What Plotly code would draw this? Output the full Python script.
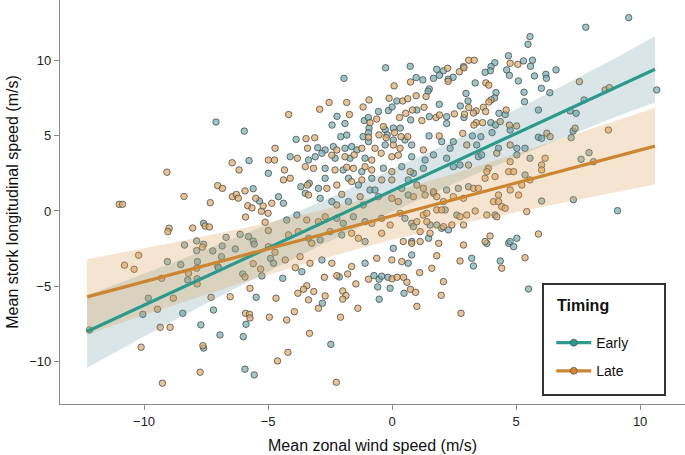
import plotly.graph_objects as go

# ---------------- data ----------------
early_x = [-7.1,
  -1.94,-5.96,-2.22,-2.42,-1.9,-1.12,-0.96,-0.55,-0.93,-0.95,-3.87,-2.07,-1.83,-1.17,
  5.56,5.48,4.69,5.66,5.3,5.58,-0.26,0.73,4.14,3.99,3.96,3.75,4.62,4.73,5.74,5.09,2.88,2.46,2.26,2.07,1.8,1.91,1.67,1.24,0.97,1.5,1.45,
  3.35,4.19,4.13,2.98,3.06,2.75,4.31,4.56,5.32,5.34,5.9,1.9,-0.15,0.19,0.0,1.0,0.75,1.5,2.2,2.2,2.9,3.98,4.17,4.76,4.03,-0.28,0.05,0.33,-0.2,1.49,3.24,3.58,
  9.54,7.81,6.61,6.2,6.22,6.02,6.36,10.67,7.74,7.18,7.42,7.3,5.9,
  -5.77,-4.99,-5.6,-5.35,-7.6,-8.37,-7.88,-7.6,-7.88,-6.69,-6.13,-5.79,-5.6,-5.56,-6.85,-7.23,-6.32,-6.88,-9.06,-8.52,-7.85,-7.03,-4.9,
  -0.95,0.05,0.52,-3.0,-2.7,-2.37,-1.9,-1.63,-1.42,-0.28,0.79,-4.11,-3.37,-3.1,-2.83,-2.3,-1.7,-1.09,0.79,-2.7,-1.97,-1.22,-0.35,0.39,
  -3.68,-3.34,-2.97,-2.7,-1.76,-1.36,-0.82,0.39,0.65,-4.58,-4.38,-3.5,-2.9,-2.43,-1.76,-1.16,-0.89,-0.69,-0.55,0.65,
  -4.25,-3.84,-2.23,-1.97,-1.56,-1.09,-0.42,0.52,0.79,-3.37,-2.9,-2.03,-1.09,0.05,0.79,-4.78,-2.83,-1.09,0.65,0.79,
  2.0,2.34,2.47,3.41,4.29,5.03,5.36,6.03,1.33,1.67,2.2,2.47,2.74,3.48,3.61,5.03,5.56,0.86,1.26,2.2,2.67,3.08,5.36,1.67,4.15,6.03,2.14,2.61,
  1.53,1.8,0.86,2.0,2.27,1.47,3.82,4.7,4.76,4.9,5.03,3.21,3.28,4.36,
  7.22,7.94,7.62,8.12,7.31,9.09,
  -8.24,-7.86,-7.0,-6.02,-5.25,-4.41,-3.64,-5.48,-9.83,-10.05,-8.44,-7.2,-7.71,-6.94,-6.0,-5.89,-5.93,-5.56,-7.6,
  -2.13,-2.81,-0.73,-0.52,-0.42,-0.17,-0.58,-0.08,-0.52,0.48,5.5,-2.47]
early_y = [5.9,
  8.8,5.3,6.28,5.7,5.8,6.0,6.2,6.6,5.5,5.2,4.75,4.93,5.04,4.93,
  11.57,11.06,10.3,10.0,9.96,9.6,9.5,9.6,9.84,9.58,9.3,9.2,9.36,9.0,8.96,8.63,9.58,8.87,8.74,9.3,9.4,9.0,8.8,8.7,8.85,8.1,7.95,
  8.5,7.85,7.5,7.8,7.3,6.97,6.48,6.4,7.88,7.25,6.7,7.08,6.66,7.3,6.9,6.7,6.04,6.26,6.26,5.8,6.2,5.86,5.7,5.37,5.2,5.4,5.5,5.5,5.05,4.98,4.98,4.93,
  12.83,12.19,9.36,9.07,8.8,8.14,7.85,8.03,7.37,6.64,6.48,5.3,4.9,
  3.34,2.5,1.48,0.66,-0.82,-2.26,-1.99,-2.21,-2.63,-1.75,-1.55,-1.7,-2.0,-2.2,-2.32,-2.65,-2.52,-3.03,-3.36,-3.56,-3.36,-3.7,-3.15,
  4.6,4.71,4.71,4.2,4.05,4.27,4.16,4.27,4.05,4.38,4.38,3.6,3.38,3.6,3.83,3.5,3.5,3.5,3.6,2.83,2.72,2.61,2.83,2.94,
  1.61,1.84,1.5,2.17,2.17,1.72,2.17,1.5,2.06,0.95,0.51,1.17,0.84,0.62,0.62,0.4,1.39,1.39,0.95,1.06,
  -0.6,-0.27,-0.49,-0.82,-0.38,-0.71,-0.49,-0.49,-0.82,-1.81,-1.92,-1.59,-2.03,-2.48,-2.03,-3.47,-3.25,-3.47,-3.47,-2.92,
  4.6,4.16,4.6,4.38,4.16,4.16,4.16,4.82,3.38,3.72,3.5,2.94,3.05,3.6,3.72,3.72,3.5,2.5,2.83,1.39,1.5,1.61,2.39,1.17,-0.27,0.66,0.07,-0.27,
  -0.93,-0.93,-1.04,-1.15,-1.26,-1.81,-2.15,-2.15,-2.03,-2.37,-1.81,-3.14,-3.65,-3.32,
  4.86,3.87,3.43,3.27,0.75,0.02,
  -4.58,-4.5,-3.76,-4.18,-4.31,-4.47,-4.03,-5.73,-5.79,-6.86,-6.79,-6.57,-7.56,-8.23,-8.34,-7.52,-10.5,-10.88,-9.1,
  -4.38,-6.12,-4.29,-4.53,-4.33,-4.4,-5.04,-5.13,-5.86,-5.46,-5.18,-8.85]

late_x = [-4.17,-2.92,-2.54,-1.83,-0.93,-1.17,-1.72,-0.62,-0.89,-3.47,-3.12,-0.95,
  4.76,5.07,3.09,3.31,2.71,2.9,2.26,2.24,0.74,0.08,1.37,0.97,3.78,3.9,3.99,3.9,3.09,3.39,3.68,3.77,4.6,-0.12,0.43,0.63,1.29,0.82,0.55,0.3,1.2,1.77,1.91,
  2.51,2.92,3.28,3.39,3.3,3.65,4.36,5.02,4.73,-0.35,0.1,0.36,-0.53,1.9,2.85,
  7.55,8.59,8.76,7.38,6.24,8.72,
  -11.0,-10.87,-9.08,-8.39,-7.33,-6.45,-6.17,-4.99,-7.03,-6.84,-6.44,-6.28,-6.2,-5.93,-5.5,-5.82,-5.65,-5.27,-5.2,-5.0,-5.91,-7.54,-7.37,-8.04,-8.99,-9.04,
  -5.12,-4.99,-7.65,-10.22,-10.79,-10.4,-5.6,-5.3,
  -4.72,-3.41,-2.23,-1.22,-0.69,0.05,0.32,0.63,-0.24,-4.74,-3.82,-2.43,-1.9,-1.53,-0.82,-0.44,-0.01,0.25,-4.34,-3.5,-3.17,-2.3,-1.83,-1.56,-1.09,-0.82,-0.01,0.73,
  -4.38,-4.11,-3.41,-2.63,-2.23,-1.63,-1.22,-0.42,-0.01,-4.85,-3.37,-2.23,-2.03,-1.29,-0.01,0.25,-3.44,-2.97,-2.7,-0.82,-0.08,0.32,
  -4.99,-4.72,-4.18,-3.78,-3.24,-2.5,-1.63,-1.36,-0.42,0.45,-4.31,-3.71,-3.31,-2.43,-1.63,-0.62,-0.01,0.39,
  1.26,3.01,4.76,6.37,3.08,3.88,4.22,4.76,6.03,6.17,1.0,1.26,1.67,3.28,3.48,3.75,3.82,4.15,4.29,4.7,4.9,4.76,5.1,5.23,5.56,6.03,
  0.86,1.33,1.8,2.07,2.47,2.88,4.09,4.29,4.42,4.56,4.22,5.43,1.8,2.0,2.74,3.01,3.35,3.82,1.26,1.4,1.0,1.4,2.07,2.41,2.88,1.13,1.53,
  0.79,1.13,1.88,2.88,3.75,3.95,5.9,1.8,2.74,4.42,5.36,1.6,
  -9.29,-8.21,-7.86,-7.88,-5.93,-3.9,-3.44,-3.57,-3.8,-5.73,-4.68,-6.53,-7.3,-8.82,-9.46,-12.2,-9.35,-8.95,-5.91,-5.75,-5.73,-4.95,-4.25,-3.94,
  -4.62,-4.2,-7.74,-9.26,-7.63,-10.12,-3.33,-3.37,
  -1.79,-2.23,-2.73,-3.16,-2.7,-2.97,-1.99,-1.86,-1.99,-1.46,-1.38,-2.08,-0.95,0.0,0.2,0.46,0.6,0.74,0.95,1.0,1.11,2.07,1.98,2.78,-2.25]
late_y = [6.4,6.75,7.2,7.2,7.37,6.9,6.4,6.1,5.86,4.8,4.86,4.9,
  9.8,9.73,10.0,10.0,9.24,9.5,8.6,9.47,8.56,8.3,7.6,7.65,8.5,8.35,7.37,7.23,6.86,6.64,6.88,6.6,6.7,7.48,7.3,7.45,6.88,6.7,6.48,6.2,6.0,6.2,6.37,
  6.44,6.42,6.5,5.86,5.7,5.86,5.93,5.64,5.7,5.6,5.2,4.93,5.05,4.98,5.15,
  8.58,8.03,8.18,5.49,5.16,5.37,
  0.44,0.44,2.57,0.97,0.55,3.2,2.72,3.38,1.68,1.5,0.95,1.1,0.85,1.33,0.84,0.35,0.2,-0.02,0.33,-0.15,-0.4,-1.0,-1.06,-1.13,-1.15,-1.37,
  -0.75,-1.3,-2.4,-2.94,-3.6,-3.87,-3.5,-3.85,
  4.16,4.16,4.05,4.16,4.16,4.38,4.16,4.93,4.86,3.38,3.5,3.7,3.6,3.72,3.38,3.83,3.6,3.7,2.72,2.94,2.83,2.72,2.9,2.83,2.94,2.72,2.61,2.61,
  2.06,2.17,1.72,1.5,1.72,1.95,2.06,2.06,2.06,0.51,1.06,0.4,1.1,0.95,0.84,0.62,-0.6,-0.71,-0.38,-0.82,-0.93,-0.15,
  -2.37,-2.74,-1.59,-1.37,-2.14,-1.37,-1.48,-1.81,-1.48,-2.03,-3.25,-3.03,-3.47,-3.47,-3.69,-3.14,-3.25,-3.36,
  4.05,4.38,4.38,4.93,3.05,2.83,3.83,3.27,3.05,3.5,1.72,1.5,1.28,1.5,1.5,2.17,2.61,2.28,1.06,2.61,2.61,1.39,1.06,1.72,2.06,2.72,
  0.95,1.06,0.95,0.62,0.95,0.84,0.62,0.62,0.29,0.18,-0.38,-0.04,0.07,0.07,-0.38,-0.27,0.0,-0.27,-0.27,-0.15,-0.71,-0.71,-1.04,-0.93,-0.93,-1.37,-1.48,
  -2.15,-2.03,-2.15,-2.26,-2.03,-1.66,-1.53,-2.97,-3.32,-3.8,-3.1,-3.8,
  -4.47,-4.13,-4.84,-3.8,-4.38,-3.76,-4.96,-5.19,-5.46,-5.13,-5.79,-5.69,-5.73,-5.79,-6.52,-7.9,-7.72,-7.72,-6.79,-6.86,-7.1,-7.05,-7.23,-6.68,
  -9.95,-9.38,-10.7,-11.43,-8.94,-9.04,-8.12,-5.9,
  -4.18,-4.29,-4.4,-5.35,-5.64,-6.46,-5.31,-5.62,-5.85,-4.84,-6.46,-7.05,-4.53,-4.5,-4.4,-4.4,-4.73,-5.2,-5.4,-6.33,-4.09,-4.69,-5.6,-6.79,-11.37]

# fitted lines and confidence bands
fit_x = [-12.3, -9, -6, -3, 0, 3, 6, 9, 10.6]
early_fit = [-8.0, -5.49, -3.21, -0.93, 1.35, 3.63, 5.91, 8.19, 9.40]
early_lo = [-10.4, -7.44, -4.86, -2.38, -0.05, 2.18, 4.26, 6.24, 7.2]
early_hi = [-5.6, -3.54, -1.56, 0.52, 2.75, 5.08, 7.56, 10.14, 11.6]
late_fit = [-5.7, -4.26, -2.95, -1.64, -0.33, 0.98, 2.29, 3.60, 4.30]
late_lo = [-8.2, -6.36, -4.75, -3.26, -1.91, -0.77, 0.24, 1.25, 1.75]
late_hi = [-3.2, -2.16, -1.15, -0.02, 1.25, 2.73, 4.34, 5.95, 6.85]

groups = ["Early", "Late"]
legend_title = "Timing"
x_ticks = [-10, -5, 0, 5, 10]
x_tick_labels = ["\u221210", "\u22125", "0", "5", "10"]
y_ticks = [-10, -5, 0, 5, 10]
y_tick_labels = ["\u221210", "\u22125", "0", "5", "10"]

# ---------------- styles ----------------
EARLY_LINE = "#2b9a8c"
LATE_LINE = "#cc8530"
EARLY_PT = "rgba(120,175,178,0.72)"
LATE_PT = "rgba(225,172,105,0.72)"
PT_EDGE = "rgba(70,70,70,0.75)"
EARLY_BAND = "rgba(95,145,155,0.24)"
LATE_BAND = "rgba(218,160,85,0.28)"
FONT = "Liberation Sans, Arial, sans-serif"

fig = go.Figure()

# points
fig.add_trace(go.Scatter(x=early_x, y=early_y, mode="markers", showlegend=False, hoverinfo="skip",
                         marker=dict(size=6.5, color=EARLY_PT, line=dict(color=PT_EDGE, width=1))))
fig.add_trace(go.Scatter(x=late_x, y=late_y, mode="markers", showlegend=False, hoverinfo="skip",
                         marker=dict(size=6.5, color=LATE_PT, line=dict(color=PT_EDGE, width=1))))

# bands
for lo, hi, col in [(early_lo, early_hi, EARLY_BAND), (late_lo, late_hi, LATE_BAND)]:
    fig.add_trace(go.Scatter(x=fit_x + fit_x[::-1], y=hi + lo[::-1], mode="lines", fill="toself",
                             fillcolor=col, line=dict(width=0), showlegend=False, hoverinfo="skip"))

# fitted lines
fig.add_trace(go.Scatter(x=fit_x, y=early_fit, mode="lines", line=dict(color=EARLY_LINE, width=3.2),
                         showlegend=False, hoverinfo="skip"))
fig.add_trace(go.Scatter(x=fit_x, y=late_fit, mode="lines", line=dict(color=LATE_LINE, width=3.2),
                         showlegend=False, hoverinfo="skip"))

# legend entries
for name, col in zip(groups, [EARLY_LINE, LATE_LINE]):
    fig.add_trace(go.Scatter(x=[None], y=[None], mode="lines+markers", name=name, legendgroup=name,
                             line=dict(color=col, width=3.2),
                             marker=dict(size=7, color=col, line=dict(color="rgba(70,70,70,0.6)", width=1))))

axis_common = dict(showline=True, linecolor="#8a8a8a", linewidth=1.4, ticks="outside", ticklen=5,
                   tickcolor="#8a8a8a", tickwidth=1.2, showgrid=False, zeroline=False,
                   tickfont=dict(family=FONT, size=13, color="#222"))

fig.update_layout(
    width=685, height=455,
    margin=dict(l=60, r=0, t=0, b=51),
    paper_bgcolor="white", plot_bgcolor="white",
    font=dict(family=FONT),
    xaxis=dict(range=[-13.39, 11.81], tickvals=x_ticks, ticktext=x_tick_labels,
               title=dict(text="Mean zonal wind speed (m/s)", font=dict(family=FONT, size=16, color="#111"), standoff=12),
               **axis_common),
    yaxis=dict(range=[-12.81, 14.0], tickvals=y_ticks, ticktext=y_tick_labels,
               title=dict(text="Mean stork longitudinal speed (m/s)", font=dict(family=FONT, size=16, color="#111"), standoff=6),
               **axis_common),
    legend=dict(x=0.786, y=0.1905, xanchor="left", yanchor="top",
                bgcolor="rgba(0,0,0,0)", borderwidth=0,
                font=dict(family=FONT, size=14, color="#111"),
                itemwidth=35, tracegroupgap=7),
    shapes=[dict(type="rect", xref="paper", yref="paper", x0=0.7728, x1=0.968, y0=0.0223, y1=0.297,
                 line=dict(color="#333", width=2), fillcolor="white", layer="below")],
    annotations=[dict(text="<b>" + legend_title + "</b>", xref="paper", yref="paper",
                      x=0.792, y=0.245, xanchor="left", yanchor="middle", showarrow=False,
                      font=dict(family=FONT, size=16, color="#111"))],
)

fig.write_html("out.html", config={"displayModeBar": False},
               post_script="document.body.style.margin='0';document.body.style.padding='0';")
